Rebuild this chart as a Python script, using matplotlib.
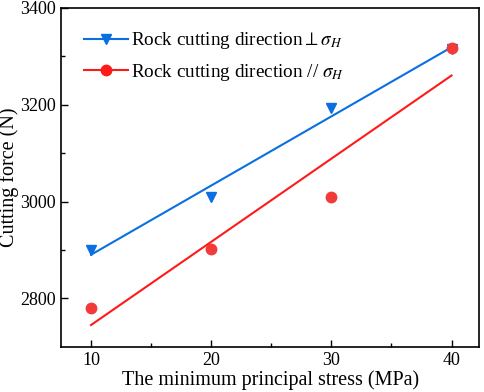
import numpy as np
import matplotlib.pyplot as plt

plt.rcParams['font.family'] = 'Liberation Serif'
plt.rcParams['mathtext.fontset'] = 'stix'

stress = [10, 20, 30, 40]
force_perp = [2900, 3010, 3193, 3315]
force_para = [2781, 2903, 3009, 3318]

blue = '#0a6fe0'
red = '#ff1a1a'

fig = plt.figure(figsize=(4.84, 3.92), dpi=100)
ax = fig.add_axes([0.126, 0.115, 0.864, 0.865])

x = np.array(stress)
xf = np.array([10, 40])
for y, c, m, mc, lab in [(force_perp, blue, 'v', blue, r'Rock cutting direction$\perp\sigma_H$'),
                         (force_para, red, 'o', '#f23a3a', r'Rock cutting direction // $\sigma_H$')]:
	k, b = np.polyfit(x, y, 1)
	ax.plot(x, y, linestyle='none', marker=m, color=mc, markersize=7.5)
	ax.plot(xf, k * xf + b, color=c, lw=1.5)
	ax.plot([], [], color=c, marker=m, markersize=7.5, lw=1.5, label=lab)

ax.set_xlim(7.5, 42.3)
ax.set_ylim(2700, 3400)
ax.set_xticks([10, 20, 30, 40])
ax.set_xticks([15, 25, 35], minor=True)
ax.set_yticks([2800, 3000, 3200, 3400])
ax.set_yticks([2900, 3100, 3300], minor=True)
ax.tick_params(labelsize=13, direction='in', length=5, width=1)
ax.tick_params(which='minor', direction='in', length=3, width=1)
for s in ax.spines.values():
	s.set_linewidth(1.2)

ax.set_xlabel('The minimum principal stress (MPa)', fontsize=14.5, labelpad=1)
ax.set_ylabel('Cutting force (N)', fontsize=14.5)
ax.yaxis.set_label_coords(-0.1, 0.5)

ax.legend(loc='upper left', frameon=False, fontsize=13.8, handlelength=2.3,
	handletextpad=0.15, borderaxespad=0.6, labelspacing=0.55, bbox_to_anchor=(0.01, 0.99))

fig.savefig('out.png', dpi=100)
